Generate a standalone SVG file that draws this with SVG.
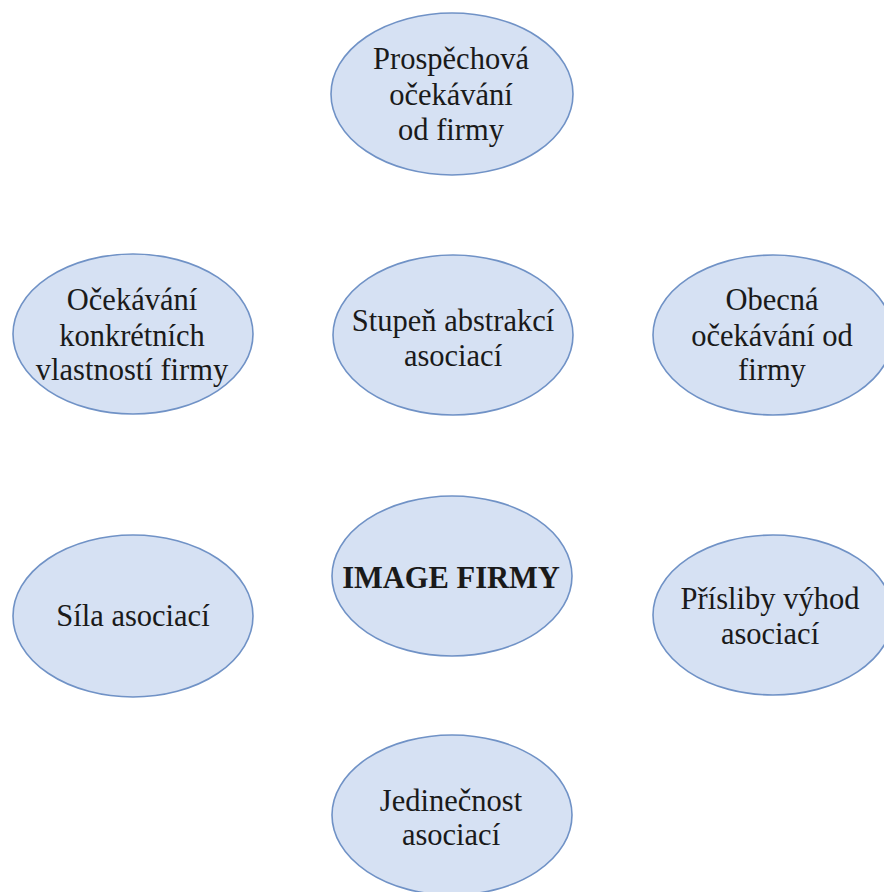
<svg xmlns="http://www.w3.org/2000/svg" width="884" height="892" viewBox="0 0 884 892">
  <style>
    .node ellipse { fill: #D6E1F3; stroke: #7092C6; stroke-width: 1.6; }
    .node text { font-family: "Liberation Serif", "Times New Roman", serif; font-size: 30.5px; fill: #1a1a1a; text-anchor: middle; }
    .node text.bold { font-weight: bold; font-size: 30.5px; }
  </style>
  <rect width="884" height="892" fill="#ffffff"/>
  <g id="connectors"></g>

  <g id="prospechova" class="node">
    <ellipse cx="452" cy="94" rx="121" ry="81"/>
    <text x="451" y="69">Prospěchová</text>
    <text x="451" y="105">očekávání</text>
    <text x="451" y="140">od firmy</text>
  </g>

  <g id="konkretni" class="node">
    <ellipse cx="133" cy="334" rx="120" ry="80"/>
    <text x="132" y="310">Očekávání</text>
    <text x="132" y="346">konkrétních</text>
    <text x="132" y="380">vlastností firmy</text>
  </g>

  <g id="stupen" class="node">
    <ellipse cx="453" cy="335" rx="120" ry="80"/>
    <text x="453" y="331">Stupeň abstrakcí</text>
    <text x="453" y="366">asociací</text>
  </g>

  <g id="obecna" class="node">
    <ellipse cx="773" cy="335" rx="120" ry="80"/>
    <text x="772" y="310">Obecná</text>
    <text x="772" y="346">očekávání od</text>
    <text x="772" y="380">firmy</text>
  </g>

  <g id="image-firmy" class="node">
    <ellipse cx="452" cy="576" rx="120" ry="80"/>
    <text class="bold" x="451" y="588">IMAGE FIRMY</text>
  </g>

  <g id="sila" class="node">
    <ellipse cx="133" cy="616" rx="120" ry="81"/>
    <text x="133" y="626">Síla asociací</text>
  </g>

  <g id="prisliby" class="node">
    <ellipse cx="773" cy="615" rx="120" ry="80"/>
    <text x="770" y="609">Přísliby výhod</text>
    <text x="770" y="644">asociací</text>
  </g>

  <g id="jedinecnost" class="node">
    <ellipse cx="452" cy="815" rx="120" ry="80"/>
    <text x="451" y="811">Jedinečnost</text>
    <text x="451" y="845">asociací</text>
  </g>
</svg>
